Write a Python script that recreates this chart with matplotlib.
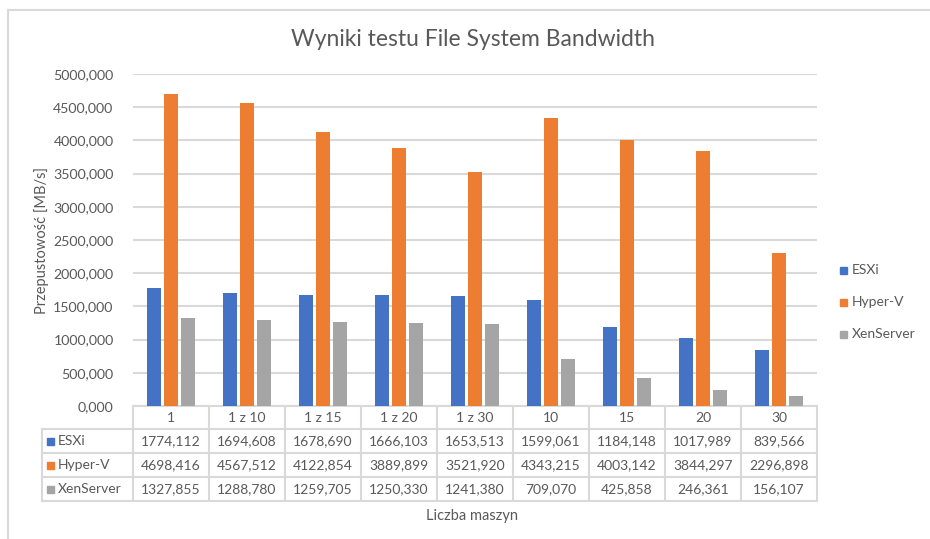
import matplotlib
matplotlib.use("Agg")
import matplotlib.pyplot as plt
from matplotlib.transforms import blended_transform_factory
from matplotlib.patches import Rectangle

categories = ["1", "1 z 10", "1 z 15", "1 z 20", "1 z 30", "10", "15", "20", "30"]
series_names = ["ESXi", "Hyper-V", "XenServer"]
esxi = [1774.112, 1694.608, 1678.690, 1666.103, 1653.513, 1599.061, 1184.148, 1017.989, 839.566]
hyperv = [4698.416, 4567.512, 4122.854, 3889.899, 3521.920, 4343.215, 4003.142, 3844.297, 2296.898]
xen = [1327.855, 1288.780, 1259.705, 1250.330, 1241.380, 709.070, 425.858, 246.361, 156.107]
yticks = [0, 500, 1000, 1500, 2000, 2500, 3000, 3500, 4000, 4500, 5000]

colors = ["#4472C4", "#ED7D31", "#A5A5A5"]
txt = "#595959"
grid_c = "#D9D9D9"
FONT = "Lato"
plt.rcParams["font.family"] = [FONT, "DejaVu Sans"]

W, H = 930, 539
fig = plt.figure(figsize=(W / 100, H / 100), dpi=100)

# overlay in pixel coords
ov = fig.add_axes([0, 0, 1, 1], zorder=0)
ov.set_xlim(0, W)
ov.set_ylim(H, 0)
ov.axis("off")

L, R, T, B = 133, 817, 74, 406
ax = fig.add_axes([L / W, 1 - B / H, (R - L) / W, (B - T) / H], zorder=1)
ax.patch.set_alpha(0)

n = len(categories)
xs = list(range(n))
bw = 0.178
off = 0.224
for k, (vals, c) in enumerate(zip([esxi, hyperv, xen], colors)):
    ax.bar([x + (k - 1) * off for x in xs], vals, width=bw, color=c, zorder=3, label=series_names[k])

ax.set_xlim(-0.5, n - 0.5)
ax.set_ylim(0, 5000)
ax.set_yticks(yticks)
ax.set_yticklabels([f"{v:.3f}".replace(".", ",") for v in yticks], color=txt, fontsize=10.2)
ax.tick_params(axis="y", length=0, pad=14)
ax.set_xticks([])
ax.grid(axis="y", color=grid_c, linewidth=1.5, zorder=0)
for s in ax.spines.values():
    s.set_visible(False)
ax.set_ylabel("Przepustowość [MB/s]", color=txt, fontsize=10.5, labelpad=3)

# outer chart border
ov.plot([8, 8], [10, H], color=grid_c, lw=1.5)
ov.plot([8, W], [10, 10], color=grid_c, lw=1.5)

# title
ov.text(473, 40, "Wyniki testu File System Bandwidth", ha="center", va="center",
        fontsize=16.5, color=txt)

# data table
bt = blended_transform_factory(ax.transData, ov.transData)
rows_y = [406, 429, 453, 477, 501]
lc = dict(color=grid_c, lw=1.5, zorder=2)
ov.plot([L, R], [rows_y[0], rows_y[0]], **lc)
for yy in rows_y[1:]:
    ov.plot([42, R], [yy, yy], **lc)
for i in range(n + 1):
    xb = i - 0.5
    ax.plot([xb, xb], [rows_y[0], rows_y[-1]], transform=bt, clip_on=False, **lc)
ov.plot([42, 42], [rows_y[1], rows_y[-1]], **lc)

for i, cat in enumerate(categories):
    ax.text(i, (rows_y[0] + rows_y[1]) / 2, cat, transform=bt, ha="center", va="center",
            fontsize=10, color=txt, clip_on=False)
for r, (name, vals, c) in enumerate(zip(series_names, [esxi, hyperv, xen], colors)):
    yc = (rows_y[r + 1] + rows_y[r + 2]) / 2
    ov.add_patch(Rectangle((47, yc - 3.5), 7, 7, color=c, zorder=3))
    ov.text(58, yc, name, ha="left", va="center", fontsize=10, color=txt)
    for i, v in enumerate(vals):
        ax.text(i, yc, f"{v:.3f}".replace(".", ","), transform=bt, ha="center", va="center",
                fontsize=10, color=txt, clip_on=False)

ov.text(472, 516, "Liczba maszyn", ha="center", va="center", fontsize=10.5, color=txt)

# legend
for k, (name, c) in enumerate(zip(series_names, colors)):
    yc = 270 + 32 * k
    ov.add_patch(Rectangle((840, yc - 3.5), 7, 7, color=c, zorder=3))
    ov.text(852, yc, name, ha="left", va="center", fontsize=10, color=txt)

fig.savefig("out.png", dpi=100)
